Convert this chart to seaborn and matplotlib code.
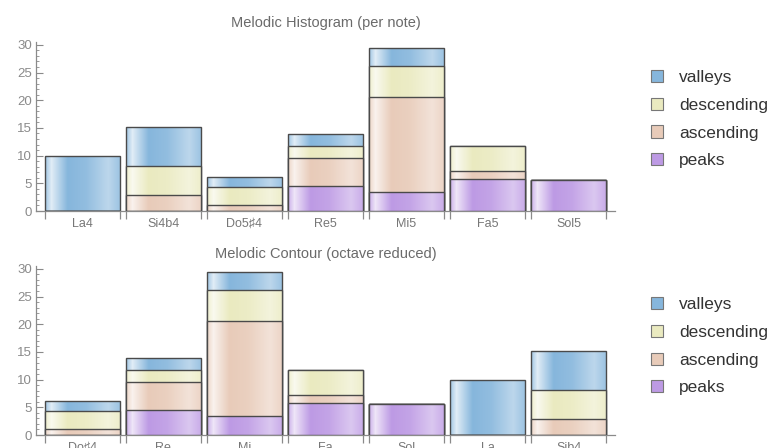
import matplotlib
matplotlib.use("Agg")
import matplotlib.pyplot as plt
import matplotlib.colors as mcolors
from matplotlib.patches import Patch
from matplotlib.ticker import FixedLocator, MultipleLocator
import numpy as np
import pandas as pd
import seaborn as sns

# Values (counts per note)
notes_hist = ["La4", "Si4b4", "Do5♯4", "Re5", "Mi5", "Fa5", "Sol5"]
peaks_hist = [0, 0, 0, 4.5, 3.4, 5.7, 5.6]
ascending_hist = [0, 2.9, 1.1, 5.0, 17.1, 1.5, 0]
descending_hist = [0, 5.3, 3.3, 2.3, 5.7, 4.6, 0]
valleys_hist = [10.0, 6.9, 1.7, 2.1, 3.3, 0, 0]

notes_contour = ["Do♯4", "Re", "Mi", "Fa", "Sol", "La", "Sib4"]
peaks_contour = [0, 4.5, 3.4, 5.7, 5.6, 0, 0]
ascending_contour = [1.1, 5.0, 17.1, 1.5, 0, 0, 2.9]
descending_contour = [3.3, 2.3, 5.7, 4.6, 0, 0, 5.3]
valleys_contour = [1.7, 2.1, 3.3, 0, 0, 10.0, 6.9]

series = ["peaks", "ascending", "descending", "valleys"]
colors = {"valleys": "#86b6dc", "descending": "#eaeac0",
          "ascending": "#e8cbb9", "peaks": "#bd9ae4"}

BAR_W = 0.925
GRAY = "#8a8a8a"


def shade_patch(ax, patch, color):
    # cylinder-like horizontal shading, clipped to the bar
    x0, y0 = patch.get_x(), patch.get_y()
    w, h = patch.get_width(), patch.get_height()
    if h <= 0:
        return
    t = np.linspace(0, 1, 64)
    mix = np.interp(t, [0, 0.08, 0.3, 0.55, 0.85, 1.0],
                    [0.25, 0.75, 0.0, 0.1, 0.45, 0.2])
    base = np.array(mcolors.to_rgb(color))
    row = base[None, :] * (1 - mix[:, None]) + mix[:, None]
    img = np.repeat(row[None, :, :], 2, axis=0)
    im = ax.imshow(img, extent=(x0, x0 + w, y0, y0 + h), aspect="auto",
                   zorder=patch.get_zorder() - 0.5, interpolation="bilinear")
    im.set_clip_path(patch)
    patch.set_facecolor("none")


def draw_panel(ax, notes, parts, title, title_pad):
    df = pd.DataFrame({"note": notes, **parts})
    # overlay cumulative totals from the top segment down
    cum = df[series].cumsum(axis=1)
    for z, name in enumerate(reversed(series)):
        sns.barplot(x=df["note"], y=cum[name], ax=ax, color=colors[name],
                    width=BAR_W, edgecolor="#4a4a4a", linewidth=1.0,
                    saturation=1, zorder=2 + z * 2)
    for p in list(ax.patches):
        shade_patch(ax, p, p.get_facecolor())

    n = len(notes)
    ax.set_xlim(-0.57, n - 1 + 0.57)
    ax.set_ylim(0, 30.5)
    ax.set_xlabel("")
    ax.set_ylabel("")
    ax.set_title(title, fontsize=10.5, color="#6a6a6a", pad=title_pad)

    edges = [i + s * BAR_W / 2 for i in range(n) for s in (-1, 1)]
    ax.xaxis.set_minor_locator(FixedLocator(edges))
    ax.tick_params(axis="x", which="both", bottom=True)
    ax.tick_params(axis="y", which="both", left=True)
    ax.tick_params(axis="x", which="major", length=0, labelsize=9,
                   labelcolor="#777777", pad=5)
    ax.tick_params(axis="x", which="minor", length=6, width=0.9,
                   color=GRAY, direction="out")
    ax.yaxis.set_major_locator(MultipleLocator(5))
    ax.yaxis.set_minor_locator(MultipleLocator(1))
    ax.tick_params(axis="y", which="major", length=5, width=0.8,
                   color=GRAY, direction="in", labelsize=9.5,
                   labelcolor="#8a8a8a", pad=3)
    ax.tick_params(axis="y", which="minor", length=2.5, width=0.6,
                   color=GRAY, direction="in")
    for side in ("top", "right"):
        ax.spines[side].set_visible(False)
    for side in ("left", "bottom"):
        ax.spines[side].set_color(GRAY)
        ax.spines[side].set_linewidth(0.9)
    ax.grid(False)


sns.set_style("white")
plt.rcParams["font.family"] = ["Liberation Sans", "DejaVu Sans"]

fig = plt.figure(figsize=(7.77, 4.48), dpi=100)
ax_top = fig.add_axes([0.0463, 0.529, 0.745, 0.377])
ax_bot = fig.add_axes([0.0463, 0.029, 0.745, 0.377])

draw_panel(ax_top, notes_hist,
           {"peaks": peaks_hist, "ascending": ascending_hist,
            "descending": descending_hist, "valleys": valleys_hist},
           "Melodic Histogram (per note)", 11)
draw_panel(ax_bot, notes_contour,
           {"peaks": peaks_contour, "ascending": ascending_contour,
            "descending": descending_contour, "valleys": valleys_contour},
           "Melodic Contour (octave reduced)", 6)

handles = [Patch(facecolor=colors[s], edgecolor="#777777", linewidth=0.8, label=s)
           for s in reversed(series)]
for y in (0.734, 0.227):
    fig.legend(handles=handles, loc="center left", bbox_to_anchor=(0.818, y),
               frameon=False, fontsize=12.5, handlelength=0.7, handleheight=0.7,
               handletextpad=0.9, labelspacing=0.72, labelcolor="#333333")

fig.savefig("out.png", dpi=100)
